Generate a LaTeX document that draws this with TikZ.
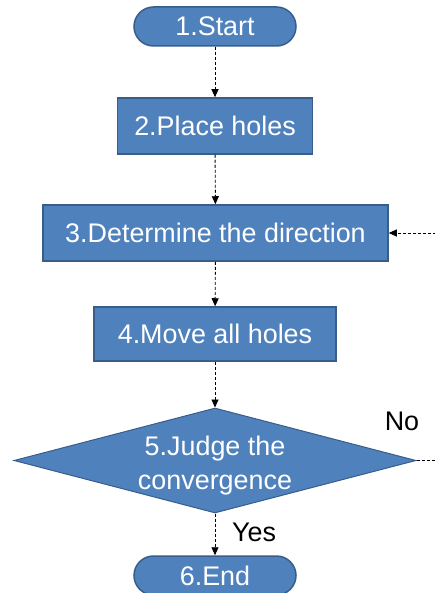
\documentclass[tikz,border=0pt]{standalone}
\usepackage{fontspec}
\setmainfont{Liberation Sans}
\usetikzlibrary{shapes.geometric,arrows.meta}
\definecolor{boxfill}{HTML}{4F81BD}
\definecolor{boxline}{HTML}{385D8A}
\begin{document}
\begin{tikzpicture}[x=1bp, y=-1bp,
    every node/.style={font=\fontsize{27}{33}\selectfont},
    stepbox/.style={rectangle, fill=boxfill, draw=boxline, line width=1.5bp,
        text=white, minimum height=56bp, inner sep=0pt},
    terminal/.style={stepbox, rounded corners=19.5bp, minimum width=162bp, minimum height=39bp},
    decision/.style={diamond, fill=boxfill, draw=boxline, line width=1bp,
        inner sep=0pt, aspect=3.83, minimum width=402bp, minimum height=105bp},
    decisiontext/.style={text=white, align=center, yshift=-5bp},
    flow/.style={dashed, dash pattern=on 3bp off 2bp, line width=0.9bp,
        -{Triangle[length=8bp, width=7bp]}}
]

    % Frame
    \clip (0,0) rectangle (435,593);

    % Steps
    \node[terminal] (start) at (215,26.5) {1.Start};
    \node[stepbox, minimum width=195bp] (place) at (215,126) {2.Place holes};
    \node[stepbox, minimum width=345bp] (determine) at (215.5,233) {3.Determine the direction};
    \node[stepbox, minimum width=242bp, minimum height=54bp] (move) at (215,334) {4.Move all holes};
    \node[decision, label={[decisiontext]center:5.Judge the\\[1bp]convergence}] (judge) at (215,460.5) {};
    \node[terminal] (finish) at (215,575.5) {6.End};

    % Branch labels
    \node (no) at (402,421) {No};
    \node (yes) at (254,532) {Yes};

    % Connectors
    \draw[flow] (start) -- (place);
    \draw[flow] (place) -- (determine);
    \draw[flow] (determine) -- (move);
    \draw[flow] (move) -- (judge);
    \draw[flow] (judge) -- (finish);

    % Loop back (runs off the right edge)
    \coordinate (loopB) at (445,460.5);
    \coordinate (loopT) at (445,233);
    \draw[flow] (judge.east) -- (loopB) -- (loopT) -- (determine.east);

\end{tikzpicture}
\end{document}
